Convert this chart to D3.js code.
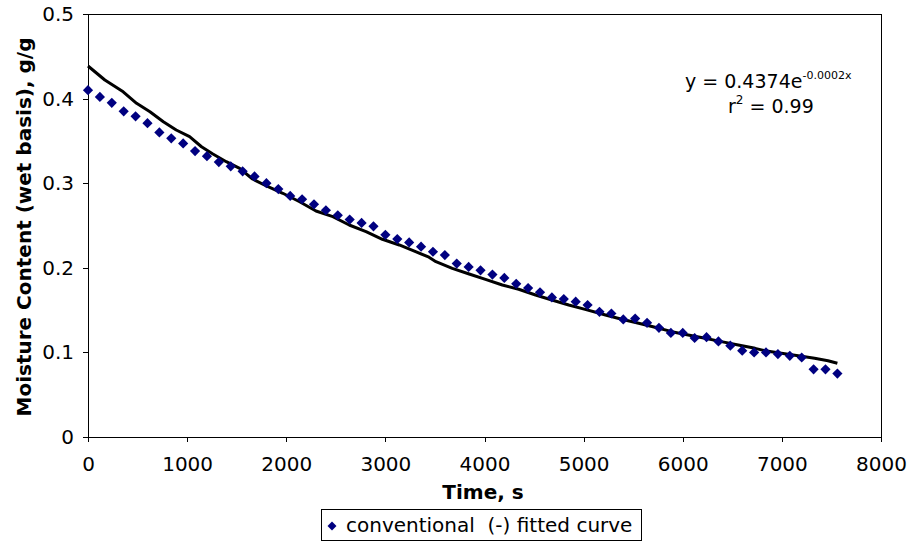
<!DOCTYPE html>
<html>
<head>
<meta charset="utf-8">
<script src="https://cdn.jsdelivr.net/npm/d3@7"></script>
<style>
  html, body { margin: 0; padding: 0; background: #fff; }
  svg { display: block; }
  svg text { font-family: "DejaVu Sans", "Verdana", "Bitstream Vera Sans"; white-space: pre; }
</style>
</head>
<body>
<svg id="chart" width="911" height="546"></svg>
<script>
// Measured drying data: one reading every 120 s
const timeStep = 120;
const moisture = [
  0.410, 0.402, 0.395, 0.385, 0.379, 0.371, 0.360, 0.353, 0.347, 0.338,
  0.332, 0.325, 0.320, 0.314, 0.308, 0.300, 0.293, 0.285, 0.281, 0.275,
  0.268, 0.262, 0.257, 0.253, 0.249, 0.239, 0.234, 0.230, 0.225, 0.219,
  0.215, 0.205, 0.201, 0.197, 0.192, 0.188, 0.181, 0.176, 0.171, 0.165,
  0.163, 0.160, 0.156, 0.148, 0.146, 0.139, 0.140, 0.135, 0.129, 0.123,
  0.123, 0.117, 0.118, 0.113, 0.108, 0.102, 0.100, 0.100, 0.098, 0.096,
  0.094, 0.080, 0.080, 0.075
];
const measuredTime = moisture.map((_, i) => i * timeStep);

// Fitted curve, sampled along its length
const fitTime = [
  0, 170, 355, 490, 625, 760, 890, 1025, 1145, 1260, 1395, 1530, 1660,
  1800, 1965, 2135, 2300, 2470, 2635, 2805, 2970, 3140, 3305, 3440,
  3510, 3675, 3845, 4010, 4180, 4345, 4515, 4680, 4850, 5015, 5150,
  5220, 5385, 5555, 5720, 5890, 6055, 6225, 6390, 6560, 6730,
  6830, 6995, 7165, 7330, 7465, 7560
];
const fitValue = [
  0.4385, 0.422, 0.408, 0.3944, 0.3845, 0.3727, 0.3629, 0.355, 0.3431, 0.3345, 0.3254, 0.3176, 0.305,
  0.2967, 0.2881, 0.2781, 0.2671, 0.2604, 0.2506, 0.2427, 0.2337, 0.227, 0.219, 0.2125,
  0.2072, 0.1994, 0.1927, 0.1864, 0.1797, 0.1746, 0.1678, 0.1619, 0.156, 0.1509, 0.1465,
  0.1442, 0.1391, 0.1344, 0.1297, 0.1245, 0.1206, 0.1167, 0.1127, 0.1087, 0.1048,
  0.102, 0.0989, 0.0961, 0.093, 0.0902, 0.0871
];

const xTicks = [0, 1000, 2000, 3000, 4000, 5000, 6000, 7000, 8000];
const yTicks = [0, 0.1, 0.2, 0.3, 0.4, 0.5];
const xTitle = "Time, s";
const yTitle = "Moisture Content (wet basis), g/g";
const legendText = "conventional  (-) fitted curve";

const FONT = "'DejaVu Sans', Verdana, 'Bitstream Vera Sans'";
const svg = d3.select("#chart");
const plot = { left: 88, right: 881, top: 14, bottom: 437 };

const x = d3.scaleLinear().domain([0, 8000]).range([plot.left, plot.right]);
const y = d3.scaleLinear().domain([0, 0.5]).range([plot.bottom, plot.top]);

// Plot area frame (top and right edges)
svg.append("path")
  .attr("d", `M${plot.left},${plot.top}H${plot.right}V${plot.bottom}`)
  .attr("fill", "none").attr("stroke", "#000").attr("stroke-width", 1)
  .attr("shape-rendering", "crispEdges");

// Axes
const xAxis = svg.append("g")
  .attr("transform", `translate(0,${plot.bottom})`)
  .call(d3.axisBottom(x).tickValues(xTicks).tickFormat(d3.format("d")).tickSizeOuter(0).tickSize(5).tickPadding(15));
const yAxis = svg.append("g")
  .attr("transform", `translate(${plot.left},0)`)
  .call(d3.axisLeft(y).tickValues(yTicks).tickFormat(d => d === 0 ? "0" : d3.format(".1f")(d)).tickSizeOuter(0).tickSize(5).tickPadding(9));

[xAxis, yAxis].forEach(g => {
  g.attr("font-family", FONT).attr("font-size", 20);
  g.selectAll("path, line").attr("stroke", "#000").attr("shape-rendering", "crispEdges");
  g.selectAll("text").attr("fill", "#000");
});

// Axis titles
svg.append("text")
  .attr("x", 483).attr("y", 499)
  .attr("text-anchor", "middle")
  .attr("font-family", FONT).attr("font-size", 20).attr("font-weight", "bold")
  .text(xTitle);

svg.append("text")
  .attr("transform", "translate(31,227) rotate(-90)")
  .attr("text-anchor", "middle")
  .attr("font-family", FONT).attr("font-size", 20).attr("font-weight", "bold")
  .text(yTitle);

// Fitted curve
const line = d3.line().x(d => x(d[0])).y(d => y(d[1]));
svg.append("path")
  .datum(fitTime.map((t, i) => [t, fitValue[i]]))
  .attr("d", line)
  .attr("fill", "none").attr("stroke", "#000").attr("stroke-width", 3)
  .attr("stroke-linejoin", "round");

// Measured points as diamonds
const diamond = d3.symbol().type(d3.symbolSquare).size(52);
svg.append("g").selectAll("path")
  .data(measuredTime.map((t, i) => [t, moisture[i]]))
  .join("path")
  .attr("d", diamond)
  .attr("transform", d => `translate(${x(d[0])},${y(d[1])}) rotate(45)`)
  .attr("fill", "#000080");

// Regression equation
const eq = svg.append("text")
  .attr("x", 685).attr("y", 88)
  .attr("font-family", FONT).attr("font-size", 19);
eq.append("tspan").text("y = 0.4374e");
eq.append("tspan").attr("dy", -9).attr("font-size", 11).text("-0.0002x");

const r2 = svg.append("text")
  .attr("x", 728).attr("y", 113)
  .attr("font-family", FONT).attr("font-size", 19);
r2.append("tspan").text("r");
r2.append("tspan").attr("dy", -9).attr("font-size", 12).text("2");
r2.append("tspan").attr("dy", 9).text(" = 0.99");

// Legend
const legend = svg.append("g");
legend.append("rect")
  .attr("x", 321.5).attr("y", 509.5).attr("width", 320).attr("height", 31)
  .attr("fill", "#fff").attr("stroke", "#000").attr("stroke-width", 1);
legend.append("path")
  .attr("d", d3.symbol().type(d3.symbolSquare).size(40))
  .attr("transform", "translate(332,526) rotate(45)")
  .attr("fill", "#000080");
legend.append("text")
  .attr("x", 346).attr("y", 532)
  .attr("font-family", FONT).attr("font-size", 20)
  .text(legendText);
</script>
</body>
</html>
